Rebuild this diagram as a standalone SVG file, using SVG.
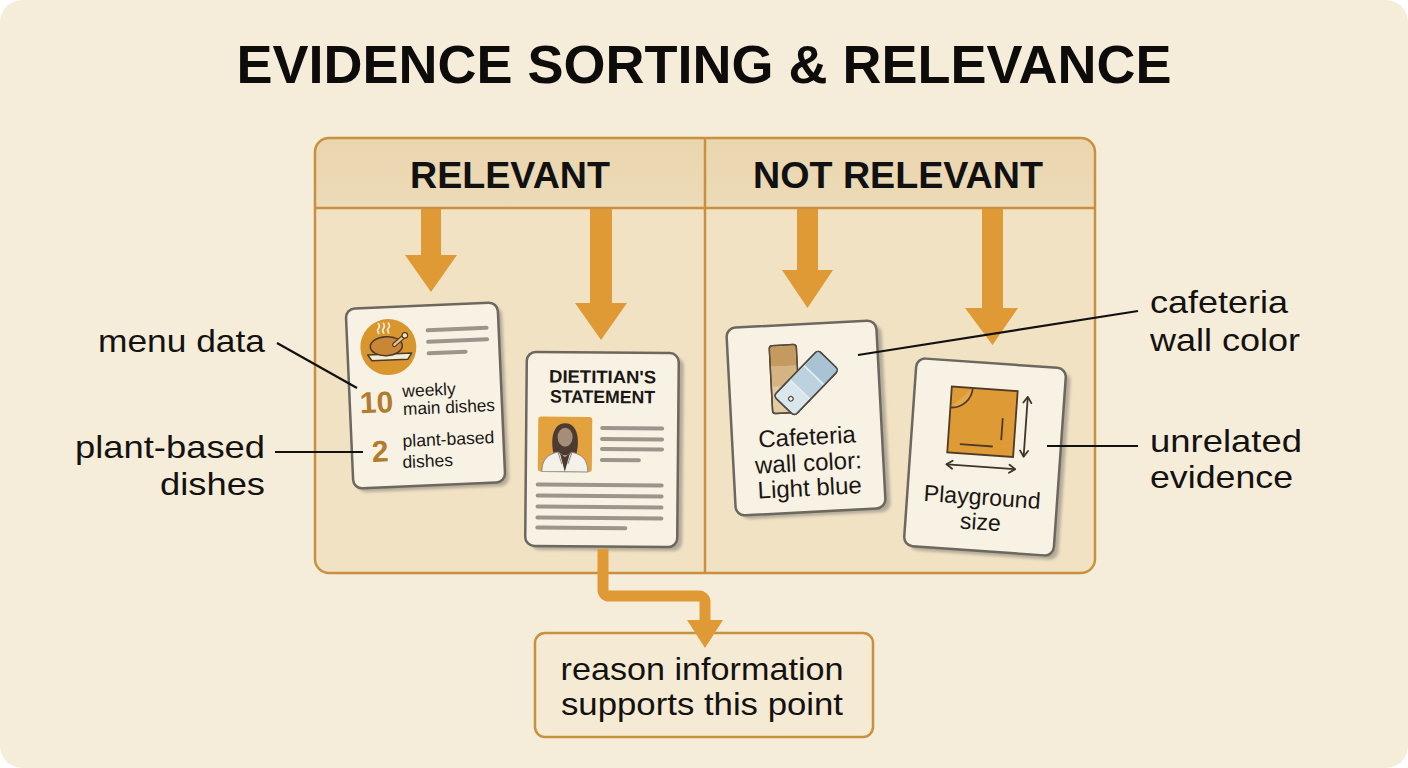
<svg xmlns="http://www.w3.org/2000/svg" width="1408" height="768" viewBox="0 0 1408 768">
<defs>
<style>
.lbl{font-family:"Liberation Sans",Arial,sans-serif;font-size:32px;fill:#141210}
.hdr{font-family:"Liberation Sans",Arial,sans-serif;font-weight:bold;font-size:37px;fill:#111}
.card{fill:#f8f2e4;stroke:#6c675f;stroke-width:2.5}
.shadow{fill:#8a857b;opacity:0.6}
.ctext{font-family:"Liberation Sans",Arial,sans-serif;fill:#1a1714}
.gline{stroke:#9b958c;stroke-width:4;stroke-linecap:round}
.arrow{fill:#df9a35}
.leader{stroke:#111;stroke-width:2.2;fill:none}
.num{font-family:"Liberation Sans",Arial,sans-serif;font-weight:bold;fill:#b27b2e}
</style>
<filter id="blur" x="-10%" y="-10%" width="120%" height="120%"><feGaussianBlur stdDeviation="1.6"/></filter>
<linearGradient id="hdrg" x1="0" y1="0" x2="0" y2="1"><stop offset="0" stop-color="#ead6ae"/><stop offset="1" stop-color="#ecdbb8"/></linearGradient>
</defs>
<rect x="0" y="0" width="1408" height="768" fill="#ffffff"/>
<rect x="0" y="0" width="1408" height="768" rx="22" fill="#f5edda"/>

<g id="title">
<text x="704" y="83" text-anchor="middle" font-family="'Liberation Sans',Arial,sans-serif" font-weight="bold" font-size="53" fill="#0d0c0b" textLength="935" lengthAdjust="spacingAndGlyphs">EVIDENCE SORTING &amp; RELEVANCE</text>
</g>

<g id="panel">
<rect x="315" y="138" width="780" height="435" rx="14" fill="#f1e2c3"/>
<path d="M315,208 V152 a14,14 0 0 1 14,-14 H1081 a14,14 0 0 1 14,14 V208 Z" fill="url(#hdrg)"/>
<rect x="315" y="138" width="780" height="435" rx="14" fill="none" stroke="#c9913f" stroke-width="2.5"/>
<line x1="315" y1="208" x2="1095" y2="208" stroke="#c9913f" stroke-width="2.5"/>
<line x1="705" y1="138" x2="705" y2="573" stroke="#c9913f" stroke-width="2.5"/>
<text class="hdr" x="510" y="188" text-anchor="middle" textLength="200" lengthAdjust="spacingAndGlyphs">RELEVANT</text>
<text class="hdr" x="898" y="188" text-anchor="middle" textLength="290" lengthAdjust="spacingAndGlyphs">NOT RELEVANT</text>
</g>

<g id="label-menu-data">
<text class="lbl" x="265" y="352" text-anchor="end" textLength="167" lengthAdjust="spacingAndGlyphs">menu data</text>
</g>
<g id="label-plant-based">
<text class="lbl" x="265" y="458" text-anchor="end" textLength="190" lengthAdjust="spacingAndGlyphs">plant-based</text>
<text class="lbl" x="265" y="495" text-anchor="end" textLength="105" lengthAdjust="spacingAndGlyphs">dishes</text>
</g>
<g id="label-cafeteria">
<text class="lbl" x="1150" y="313" textLength="138" lengthAdjust="spacingAndGlyphs">cafeteria</text>
<text class="lbl" x="1150" y="351" textLength="150" lengthAdjust="spacingAndGlyphs">wall color</text>
</g>
<g id="label-unrelated">
<text class="lbl" x="1150" y="452" textLength="152" lengthAdjust="spacingAndGlyphs">unrelated</text>
<text class="lbl" x="1150" y="488" textLength="143" lengthAdjust="spacingAndGlyphs">evidence</text>
</g>

<g id="card-menu" transform="translate(425.5,395.5) rotate(-2.5)">
<rect class="shadow" x="-72" y="-86" width="152" height="180" rx="9" filter="url(#blur)"/>
<rect class="card" x="-76" y="-90" width="152" height="180" rx="9"/>
<g transform="translate(-35,-50)">
<circle r="28" fill="#d9962f"/>
<path d="M-21,7 H23 L19,13 H-17 Z" fill="#f5ecd8" stroke="#4e3a28" stroke-width="1.5" stroke-linejoin="round"/>
<ellipse cx="-2" cy="-1" rx="16" ry="9.5" fill="#c98736" stroke="#4e3a28" stroke-width="1.5"/>
<path d="M6,-2 L16,-10" stroke="#4e3a28" stroke-width="4.5" stroke-linecap="round"/>
<path d="M6,-2 L16,-10" stroke="#e9c98e" stroke-width="2.2" stroke-linecap="round"/>
<circle cx="17" cy="-11" r="2.8" fill="#f1e2c4" stroke="#4e3a28" stroke-width="1.2"/>
<path d="M-9,-14 q-2,-3 0,-5 q2,-2 0,-5 M-4,-14 q-2,-3 0,-5 q2,-2 0,-5 M1,-14 q-2,-3 0,-5 q2,-2 0,-5" stroke="#f5ecd8" stroke-width="1.6" fill="none" stroke-linecap="round"/>
</g>
<line class="gline" x1="5" y1="-65" x2="64" y2="-65"/>
<line class="gline" x1="5" y1="-53.5" x2="64" y2="-53.5"/>
<line class="gline" x1="5" y1="-42" x2="42" y2="-42"/>
<text class="num" x="-66" y="15" font-size="30">10</text>
<text class="ctext" x="-23" y="0.5" font-size="17.5">weekly</text>
<text class="ctext" x="-23" y="18.5" font-size="17.5" textLength="92" lengthAdjust="spacingAndGlyphs">main dishes</text>
<text class="num" x="-56" y="64" font-size="30">2</text>
<text class="ctext" x="-25" y="50.5" font-size="17.5" textLength="92" lengthAdjust="spacingAndGlyphs">plant-based</text>
<text class="ctext" x="-26" y="71.5" font-size="17.5">dishes</text>
</g>

<g id="card-dietitian" transform="translate(602,449.5) rotate(0.5)">
<rect class="shadow" x="-71" y="-93" width="152" height="194" rx="9" filter="url(#blur)"/>
<rect class="card" x="-76" y="-97" width="152" height="194" rx="9"/>
<text class="ctext" x="0" y="-66.5" text-anchor="middle" font-weight="bold" font-size="18" textLength="107" lengthAdjust="spacingAndGlyphs">DIETITIAN'S</text>
<text class="ctext" x="0" y="-46.5" text-anchor="middle" font-weight="bold" font-size="18" textLength="105" lengthAdjust="spacingAndGlyphs">STATEMENT</text>
<rect x="-64" y="-32.5" width="54" height="55" rx="3" fill="#e3a23e"/>
<path d="M-48,6 C-52,-8 -50,-26 -37,-26 C-24,-26 -22,-8 -26,6 Z" fill="#4d3b31"/>
<ellipse cx="-37" cy="-12" rx="7.5" ry="9.5" fill="#a58d7a"/>
<path d="M-60,22.5 C-60,10 -54,5 -44,3 L-37,8 L-30,3 C-20,5 -14,10 -14,22.5 Z" fill="#f4f1ea" stroke="#8f8a80" stroke-width="1"/>
<path d="M-42,4 L-37,22.5 L-32,4 L-37,8 Z" fill="#4d3b31"/>
<path d="M-44,3 L-40,15 M-30,3 L-34,15" stroke="#8f8a80" stroke-width="1" fill="none"/>
<line class="gline" x1="0" y1="-21.5" x2="60" y2="-21.5"/>
<line class="gline" x1="0" y1="-10.5" x2="60" y2="-10.5"/>
<line class="gline" x1="0" y1="-0.5" x2="60" y2="-0.5"/>
<line class="gline" x1="0" y1="10.5" x2="37" y2="10.5"/>
<line class="gline" x1="-64" y1="35.5" x2="60" y2="35.5"/>
<line class="gline" x1="-64" y1="46.5" x2="60" y2="46.5"/>
<line class="gline" x1="-64" y1="57.5" x2="60" y2="57.5"/>
<line class="gline" x1="-64" y1="68.5" x2="60" y2="68.5"/>
<line class="gline" x1="-64" y1="78.5" x2="24" y2="78.5"/>
</g>

<g id="card-cafeteria" transform="translate(806,418) rotate(-3)">
<rect class="shadow" x="-70" y="-90" width="150" height="188" rx="9" filter="url(#blur)"/>
<rect class="card" x="-75" y="-94" width="150" height="188" rx="9"/>
<g>
<rect x="-33" y="-74" width="27" height="68" rx="3" fill="#e2cca4" stroke="#5a4a3c" stroke-width="1.5"/>
<rect x="-32" y="-73" width="25" height="20" fill="#c49a5e"/>
<rect x="-32" y="-53" width="25" height="20" fill="#d6b382"/>
<rect x="-33" y="-74" width="27" height="68" rx="3" fill="none" stroke="#5a4a3c" stroke-width="1.5"/>
</g>
<g transform="translate(2,-35) rotate(47)">
<rect x="-14.5" y="-32" width="29" height="64" rx="4" fill="#d9e6ec" stroke="#4f4a44" stroke-width="1.5"/>
<rect x="-13.5" y="-31" width="27" height="20" fill="#a8c3d3"/>
<rect x="-13.5" y="-11" width="27" height="20" fill="#bcd3df"/>
<line x1="-13.5" y1="-11" x2="13.5" y2="-11" stroke="#e8eff2" stroke-width="1.5"/>
<line x1="-13.5" y1="9" x2="13.5" y2="9" stroke="#e8eff2" stroke-width="1.5"/>
<rect x="-14.5" y="-32" width="29" height="64" rx="4" fill="none" stroke="#4f4a44" stroke-width="1.5"/>
<circle cx="0" cy="22" r="2.3" fill="#f8f2e4" stroke="#4f4a44" stroke-width="1.2"/>
</g>
<text class="ctext" x="0" y="27" text-anchor="middle" font-size="24">Cafeteria</text>
<text class="ctext" x="0" y="53" text-anchor="middle" font-size="24">wall color:</text>
<text class="ctext" x="0" y="78" text-anchor="middle" font-size="24">Light blue</text>
</g>

<g id="card-playground" transform="translate(985,457) rotate(4)">
<rect class="shadow" x="-70" y="-90" width="150" height="188" rx="9" filter="url(#blur)"/>
<rect class="card" x="-75" y="-94" width="150" height="188" rx="9"/>
<g transform="translate(-38,-68)">
<rect x="0" y="0" width="66" height="66" fill="#de9a35" stroke="#4e3a28" stroke-width="1.8"/>
<path d="M0,21 A21,21 0 0 0 21,0" fill="#e4a84a" stroke="#4e3a28" stroke-width="1.8"/>
<line x1="53" y1="28" x2="53" y2="50" stroke="#4e3a28" stroke-width="1.8"/>
<line x1="12" y1="57" x2="45" y2="57" stroke="#4e3a28" stroke-width="1.8"/>
</g>
<g stroke="#3e342c" stroke-width="1.8" fill="none" stroke-linecap="round" stroke-linejoin="round">
<line x1="38.5" y1="-62" x2="38.5" y2="-4"/>
<path d="M34.5,-57 L38.5,-63 L42.5,-57 M34.5,-9 L38.5,-3 L42.5,-9"/>
<line x1="-37" y1="10" x2="30" y2="10"/>
<path d="M-32,6 L-38,10 L-32,14 M25,6 L31,10 L25,14"/>
</g>
<text class="ctext" x="0" y="48" text-anchor="middle" font-size="23" textLength="117" lengthAdjust="spacingAndGlyphs">Playground</text>
<text class="ctext" x="0" y="73" text-anchor="middle" font-size="23">size</text>
</g>

<g id="box-reason">
<rect x="535" y="633" width="338" height="104" rx="10" fill="#f5ebd5" stroke="#c9913f" stroke-width="2.5"/>
<text class="lbl" x="702" y="680" text-anchor="middle" textLength="283" lengthAdjust="spacingAndGlyphs">reason information</text>
<text class="lbl" x="702" y="715" text-anchor="middle" textLength="282" lengthAdjust="spacingAndGlyphs">supports this point</text>
</g>

<g id="connectors">
<polygon class="arrow" points="421,209 441,209 441,255 457,255 431,292 405,255 421,255"/>
<polygon class="arrow" points="590,209 612,209 612,303 627,303 601,340 575,303 590,303"/>
<polygon class="arrow" points="797,209 818,209 818,270 833,270 807.5,308 782,270 797,270"/>
<polygon class="arrow" points="982,209 1003,209 1003,308 1018,308 992.5,345 965,308 982,308"/>
<path d="M603,549 V590 a6,6 0 0 0 6,6 H699 a6,6 0 0 1 6,6 V622" fill="none" stroke="#df9a35" stroke-width="11"/>
<polygon class="arrow" points="687,620 723,620 705,648"/>
<line class="leader" x1="277" y1="343" x2="357" y2="388"/>
<line class="leader" x1="275" y1="452" x2="363" y2="452"/>
<line class="leader" x1="858" y1="355" x2="1138" y2="311"/>
<line class="leader" x1="1047" y1="446" x2="1138" y2="446"/>
</g>
</svg>
